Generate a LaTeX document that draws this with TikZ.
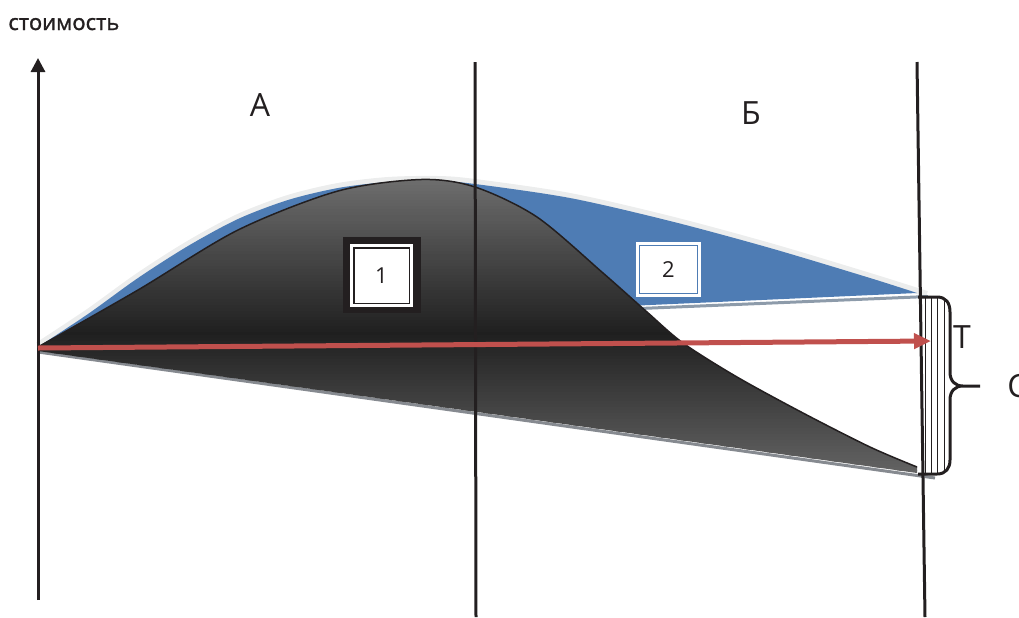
\documentclass[tikz,border=0pt]{standalone}
\usepackage{fontspec}
\setmainfont{Open Sans}
\newfontfamily\axisfont{Open Sans}[FakeBold=1.3]
\usetikzlibrary{arrows.meta}
\definecolor{chartink}{HTML}{231F20}
\definecolor{chartblue}{HTML}{4E7CB4}
\definecolor{charthalo}{HTML}{ECEDED}
\definecolor{chartred}{HTML}{C0504D}
\definecolor{chartgreya}{HTML}{868A90}
\definecolor{chartgreyb}{HTML}{8D9BAA}
\definecolor{shadetop}{HTML}{6E6E6E}
\definecolor{shademid}{HTML}{1F1F1F}
\definecolor{shadebot}{HTML}{646464}

\begin{document}
\begin{tikzpicture}[
  x=0.5pt,
  y=-0.5pt,
  every node/.style={chartink, inner sep=0pt},
  axis/.style={chartink, line width=1.5pt, -{Triangle[length=7pt, width=7pt]}},
  divider/.style={chartink, line width=1.5pt},
  halo/.style={charthalo, line width=3pt},
  rimline/.style={line width=1.5pt},
  hilledge/.style={chartink, line width=0.75pt},
  costarrow/.style={chartred, line width=2.5pt,
                    -{Triangle[length=8.5pt, width=7.5pt]}},
  bracketline/.style={chartink, line width=1.5pt, line join=round},
  hatch/.style={chartink, line width=0.5pt},
  zonelabel/.style={font=\fontsize{16}{19}\selectfont},
  framebox/.style={fill=chartink, minimum width=39pt, minimum height=38pt},
  cellone/.style={fill=white, draw=white, double=chartink, line width=1.5pt,
                  double distance=0.75pt, minimum size=27.75pt,
                  font=\fontsize{11}{13}\selectfont},
  celltwo/.style={fill=white, draw=white, double=chartblue, line width=1.5pt,
                  double distance=0.6pt, minimum width=28.9pt,
                  minimum height=23.9pt, font=\fontsize{11}{13}\selectfont}
]
  \useasboundingbox (0,0) rectangle (1019,617);

  % ---- blue area with its light rim ----
  \draw[halo, yshift=1pt] plot[smooth] coordinates {(38,347) (88,314) (138,278)
    (188,246) (238,219) (288,200) (338,188) (388,182) (438,181) (475,184)
    (570,198) (670,221) (770,248) (870,278) (927,296)};
  \fill[chartblue] plot[smooth] coordinates {(38,347) (88,314) (138,278)
    (188,246) (238,219) (288,200) (338,188) (388,182) (438,181) (475,184)
    (570,198) (670,221) (770,248) (870,278) (917,293)}
    -- (628,306) -- (38,349) -- cycle;
  \draw[chartgreyb, rimline] (640,308.5) -- (928,296.5);

  % ---- grey rim under the dark area ----
  \draw[chartgreya, rimline] (38,352) -- (935,478);

  % ---- dark area, shaded in thin bands ----
  \begin{scope}
    \clip plot[smooth] coordinates {(38,347) (138,290) (238,230) (338,191)
      (421,179.5) (475,187) (537,217) (603,273) (647,312) (683,343)
      (737,377) (803,413) (870,447) (917,467)}
      -- (917,473) -- (38,351) -- cycle;
    \foreach \k in {0,...,99}{
      \pgfmathsetmacro\ytop{176+3*\k}
      \ifnum\k<52
        \pgfmathtruncatemacro\mixpct{(\ytop-176)/156*100}
        \fill[shademid!\mixpct!shadetop] (30,\ytop) rectangle (930,\ytop+3.6);
      \else
        \pgfmathtruncatemacro\mixpct{100-(\ytop-332)/142*100}
        \fill[shademid!\mixpct!shadebot] (30,\ytop) rectangle (930,\ytop+3.6);
      \fi
    }
  \end{scope}
  \draw[hilledge] plot[smooth] coordinates {(38,347) (138,290) (238,230)
    (338,191) (421,179.5) (475,187) (537,217) (603,273) (647,312) (683,343)
    (737,377) (803,413) (870,447) (917,467)};

  % ---- numbered boxes ----
  \node[framebox] (frame1) at (382,275) {};
  \node[cellone] (num1) at (381.5,275.5) {1};
  \node[celltwo] (num2) at (668.5,269.5) {2};

  % ---- axis and dividers ----
  \draw[axis] (38,600) -- (38,58);
  \draw[divider] (475,62) -- (476,617);
  \draw[divider] (917,62) -- (925,617);

  % ---- hatched bracket ----
  \begin{scope}
    \clip (918,297) -- (937,297) .. controls (946,297) and (950,303) .. (950,312)
      -- (950,460) .. controls (950,468) and (946,474) .. (937,474)
      -- (918,474) -- cycle;
    \foreach \hx in {925,931,937,944}
      \draw[hatch] (\hx,290) -- (\hx,480);
  \end{scope}
  \draw[bracketline] (918,297) -- (937,297)
    .. controls (946,297) and (950,303) .. (950,312) -- (950,372)
    .. controls (950,381) and (955,386) .. (963,386) -- (980,386)
    (963,386) .. controls (955,386) and (950,391) .. (950,400) -- (950,460)
    .. controls (950,468) and (946,474) .. (937,474) -- (918,474);

  % ---- cost arrow ----
  \draw[costarrow] (38,348) -- (931,341);

  % ---- labels ----
  \node[anchor=base west, font=\axisfont\fontsize{11}{13}\selectfont]
    (ylabel) at (8,30) {стоимость};
  \node[zonelabel, anchor=base] (zoneA) at (260,116) {А};
  \node[zonelabel, anchor=base] (zoneB) at (751,124) {Б};
  \node[zonelabel, anchor=base] (markT) at (962,348) {Т};
  \node[zonelabel, anchor=base west] (markC) at (1007,397) {С};
\end{tikzpicture}
\end{document}
